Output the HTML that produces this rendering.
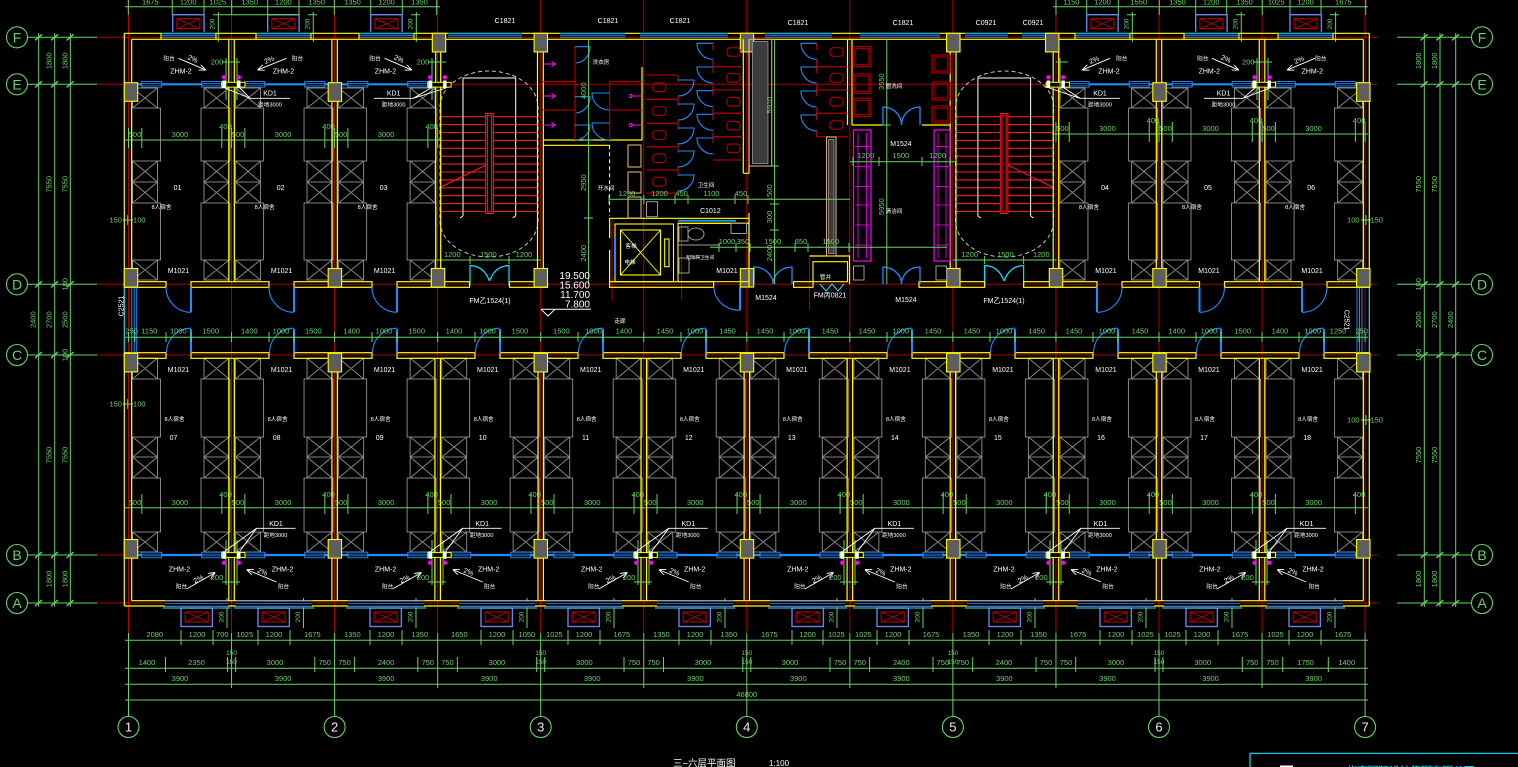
<!DOCTYPE html>
<html><head><meta charset="utf-8"><title>三~六层平面图</title>
<style>
html,body{margin:0;padding:0;background:#000}
body{width:1518px;height:767px;overflow:hidden}
svg{display:block}
text{font-family:"Liberation Sans Narrow","Liberation Sans","Noto Sans CJK SC",sans-serif}
.g{fill:#66d466;font-size:7.5px;text-anchor:middle}
.gs{fill:#66d466;font-size:6.5px;text-anchor:middle}
.w{fill:#fff;font-size:7px;text-anchor:middle}
.wc{fill:#fff;font-size:5.6px;text-anchor:middle;font-family:"Liberation Sans","Noto Sans CJK SC",sans-serif}
.bl{fill:#66d466;font-size:14px;text-anchor:middle;font-family:"Liberation Sans",sans-serif}
.bn{fill:#eee;font-size:13px;text-anchor:middle;font-family:"Liberation Sans",sans-serif}
</style></head><body>
<svg xmlns="http://www.w3.org/2000/svg" width="1518" height="767" viewBox="0 0 1518 767">
<defs>
<path id="fu" fill="none" stroke="#858585" stroke-width="1" d="M0 88h25v20h-25zM0 88l25 20M25 88l-25 20M-1 108h29v53h-29zM0 161h25v21h-25zM0 161l25 21M25 161l-25 21M0 182h25v21h-25zM0 182l25 21M25 182l-25 21M-1 203h29v57h-29zM0 260h25v20h-25zM0 260l25 20M25 260l-25 20"/>
<path id="fl" fill="none" stroke="#858585" stroke-width="1" d="M0 358h25v21h-25zM0 358l25 21M25 358l-25 21M-1 379h29v58h-29zM0 437h25v20h-25zM0 437l25 20M25 437l-25 20M0 457h25v21h-25zM0 457l25 21M25 457l-25 21M-1 478h29v54h-29zM0 532h25v20h-25zM0 532l25 20M25 532l-25 20"/>
<g id="ac"><rect x="0" y="0" width="31.4" height="18.5" fill="none" stroke="#6a84e6" stroke-width="1.4"/><rect x="4.2" y="4" width="23" height="10" fill="none" stroke="#c40000"/><path d="M4.2 4L27.2 14M27.2 4L4.2 14" stroke="#c40000" stroke-width="0.8"/></g>
<g id="win"><rect x="0" y="-2.8" width="20" height="5.6" fill="#000" stroke="#2a8cff" stroke-width="0.9"/><path d="M0 -0.9H20M0 0.9H20" stroke="#2a8cff" stroke-width="0.7"/></g>
<rect id="col" x="0" y="0" width="13.4" height="18.6" fill="#5e5e5e" stroke="#ffff00" stroke-width="1.1"/>
<g id="stair" fill="none">
<path d="M440.7 116.7H538M440.7 124.6H538M440.7 132.5H538M440.7 140.4H538M440.7 148.3H538M440.7 156.2H538M440.7 164.1H538M440.7 172H538M440.7 179.9H538M440.7 187.8H538M440.7 195.7H538M440.7 203.6H538M440.7 211.5H538" stroke="#ff1a1a" stroke-width="1.1"/>
<rect x="485.7" y="113.5" width="7.6" height="100" stroke="#ff1a1a" fill="#000"/>
<rect x="487.4" y="115.2" width="4.2" height="96.6" stroke="#ff1a1a"/>
<path d="M463 216V78H515.7V216M463 216l-3 2M515.7 216l-3 2" stroke="#fff"/>
<path d="M441 187L486 165" stroke="#ff1a1a"/>
<path d="M440 107A49 36 0 0 1 538 107V221A49 36 0 0 1 440 221Z" stroke="#c8c8c8" stroke-dasharray="4 3"/>
<path d="M470 286V265.5Q484 266 489.5 281M509 286V265.5Q495 266 489.5 281" stroke="#00e5ff" stroke-width="1.2"/>
<path d="M437 260H541M470 256V264M509 256V264" stroke="#66d466"/>
</g>
<marker id="ah" markerWidth="7" markerHeight="6" refX="6" refY="3" orient="auto" markerUnits="userSpaceOnUse"><path d="M0 0L7 3L0 6" fill="none" stroke="#fff" stroke-width="0.9"/></marker>
</defs>
<rect width="1518" height="767" fill="#000"/>

<!-- red axis lines -->
<path fill="none" stroke="#b00000" stroke-width="1" d="M128.5 0V633M231.55 0V633M334.6 0V633M437.65 0V633M540.7 0V633M643.75 0V633M746.8 0V633M849.85 0V633M952.9 0V633M1055.95 0V633M1159 0V633M1262.05 0V633M1365.1 0V633M97 37.3H1377M97 84.3H1377M97 284.3H1377M97 355H1377M97 555H1377M97 603H1377M612 218V300M681.6 218V300M809.6 255V310"/>

<!-- grid extension and outer dimension lines (green) -->
<path fill="none" stroke="#66d466" stroke-width="1" d="M28 37.3H97M28 84.3H97M28 284.3H97M28 355H97M28 555H97M28 603H97M1397 37.3H1471.5M1397 84.3H1471.5M1397 284.3H1471.5M1397 355H1471.5M1397 555H1471.5M1397 603H1471.5M38.7 33V607M54.7 33V607M70.3 33V607M1424.3 33V607M1440 33V607M1455.7 33V607"/>
<path fill="none" stroke="#66d466" stroke-width="1.4" d="M35 40.3l7-6M51 40.3l7-6M66.6 40.3l7-6M35 87.3l7-6M51 87.3l7-6M66.6 87.3l7-6M35 287.3l7-6M51 287.3l7-6M66.6 287.3l7-6M35 358l7-6M51 358l7-6M66.6 358l7-6M35 558l7-6M51 558l7-6M66.6 558l7-6M35 606l7-6M51 606l7-6M66.6 606l7-6M1420.6 40.3l7-6M1436.3 40.3l7-6M1452 40.3l7-6M1420.6 87.3l7-6M1436.3 87.3l7-6M1452 87.3l7-6M1420.6 287.3l7-6M1436.3 287.3l7-6M1452 287.3l7-6M1420.6 358l7-6M1436.3 358l7-6M1452 358l7-6M1420.6 558l7-6M1436.3 558l7-6M1452 558l7-6M1420.6 606l7-6M1436.3 606l7-6M1452 606l7-6"/>

<!-- left/right bubbles -->
<g fill="none" stroke="#66d466" stroke-width="1.1">
<circle cx="17" cy="37.3" r="10.5"/><circle cx="17" cy="84.3" r="10.5"/><circle cx="17" cy="284.3" r="10.5"/><circle cx="17" cy="355" r="10.5"/><circle cx="17" cy="555" r="10.5"/><circle cx="17" cy="603" r="10.5"/>
<circle cx="1482" cy="37.3" r="10.5"/><circle cx="1482" cy="84.3" r="10.5"/><circle cx="1482" cy="284.3" r="10.5"/><circle cx="1482" cy="355" r="10.5"/><circle cx="1482" cy="555" r="10.5"/><circle cx="1482" cy="603" r="10.5"/>
<circle cx="128.5" cy="727" r="10.5"/><circle cx="334.6" cy="727" r="10.5"/><circle cx="540.7" cy="727" r="10.5"/><circle cx="746.8" cy="727" r="10.5"/><circle cx="952.9" cy="727" r="10.5"/><circle cx="1159" cy="727" r="10.5"/><circle cx="1365.1" cy="727" r="10.5"/>
</g>
<text class="bl" x="17" y="42.5">F</text><text class="bl" x="17" y="89.5">E</text><text class="bl" x="17" y="289.5">D</text><text class="bl" x="17" y="360.2">C</text><text class="bl" x="17" y="560.2">B</text><text class="bl" x="17" y="608.2">A</text>
<text class="bl" x="1482" y="42.5">F</text><text class="bl" x="1482" y="89.5">E</text><text class="bl" x="1482" y="289.5">D</text><text class="bl" x="1482" y="360.2">C</text><text class="bl" x="1482" y="560.2">B</text><text class="bl" x="1482" y="608.2">A</text>
<text class="bn" x="128.5" y="731.7">1</text><text class="bn" x="334.6" y="731.7">2</text><text class="bn" x="540.7" y="731.7">3</text><text class="bn" x="746.8" y="731.7">4</text><text class="bn" x="952.9" y="731.7">5</text><text class="bn" x="1159" y="731.7">6</text><text class="bn" x="1365.1" y="731.7">7</text>

<!-- left/right vertical dimension texts -->
<g class="g">
<text transform="translate(51.5 60.8) rotate(-90)">1800</text><text transform="translate(51.5 184.3) rotate(-90)">7550</text><text transform="translate(51.5 319.7) rotate(-90)">2700</text><text transform="translate(51.5 455) rotate(-90)">7550</text><text transform="translate(51.5 579) rotate(-90)">1800</text>
<text transform="translate(67.5 60.8) rotate(-90)">1800</text><text transform="translate(67.5 184.3) rotate(-90)">7550</text><text transform="translate(67.5 284.3) rotate(-90)">100</text><text transform="translate(67.5 319.7) rotate(-90)">2500</text><text transform="translate(67.5 355) rotate(-90)">100</text><text transform="translate(67.5 455) rotate(-90)">7550</text><text transform="translate(67.5 579) rotate(-90)">1800</text>
<text transform="translate(35.5 319.7) rotate(-90)">2400</text>
<text transform="translate(1421 60.8) rotate(-90)">1800</text><text transform="translate(1421 184.3) rotate(-90)">7550</text><text transform="translate(1421 284.3) rotate(-90)">100</text><text transform="translate(1421 319.7) rotate(-90)">2500</text><text transform="translate(1421 355) rotate(-90)">100</text><text transform="translate(1421 455) rotate(-90)">7550</text><text transform="translate(1421 579) rotate(-90)">1800</text>
<text transform="translate(1437 60.8) rotate(-90)">1800</text><text transform="translate(1437 184.3) rotate(-90)">7550</text><text transform="translate(1437 319.7) rotate(-90)">2700</text><text transform="translate(1437 455) rotate(-90)">7550</text><text transform="translate(1437 579) rotate(-90)">1800</text>
<text transform="translate(1453 319.7) rotate(-90)">2400</text>
</g>

<!-- top dimension -->
<path fill="none" stroke="#66d466" d="M125 6.7H440M1053 6.7H1368M128.3 0V15M172.3 0V15M204 0V15M231.7 0V15M267.7 0V15M299 0V15M334.3 0V15M370.7 0V15M402.3 0V15M436.7 0V15M1056 0V15M1086.7 0V15M1118.3 0V15M1159.3 0V15M1195.7 0V15M1226.7 0V15M1262.3 0V15M1290 0V15M1321 0V15M1365.7 0V15"/>
<g class="g">
<text x="150.3" y="4.5">1675</text><text x="188.2" y="4.5">1200</text><text x="217.9" y="4.5">1025</text><text x="249.7" y="4.5">1350</text><text x="283.4" y="4.5">1200</text><text x="316.7" y="4.5">1350</text><text x="352.5" y="4.5">1350</text><text x="386.5" y="4.5">1200</text><text x="419.5" y="4.5">1350</text>
<text x="1071.4" y="4.5">1150</text><text x="1102.5" y="4.5">1200</text><text x="1138.8" y="4.5">1550</text><text x="1177.5" y="4.5">1350</text><text x="1211.2" y="4.5">1200</text><text x="1244.5" y="4.5">1350</text><text x="1276.2" y="4.5">1025</text><text x="1305.5" y="4.5">1200</text><text x="1343.4" y="4.5">1675</text>
</g>

<!-- AC units top -->
<use href="#ac" x="172.7" y="14.7"/><use href="#ac" x="267.7" y="14.7"/><use href="#ac" x="370.7" y="14.7"/><use href="#ac" x="1086.7" y="14.7"/><use href="#ac" x="1195.7" y="14.7"/><use href="#ac" x="1290" y="14.7"/>
<path fill="none" stroke="#66d466" d="M218.3 12V42M213 14.7H222M299.1 14.7H222M313.3 12V42M308 14.7H317M416.3 12V42M411 14.7H420M1132.3 12V42M1127 14.7H1136M1241.3 12V42M1236 14.7H1245M1335.6 12V42M1330 14.7H1339"/>
<g class="gs">
<text transform="translate(214.5 24) rotate(-90)">200</text><text transform="translate(309.5 24) rotate(-90)">200</text><text transform="translate(412.5 24) rotate(-90)">200</text><text transform="translate(1128.5 24) rotate(-90)">200</text><text transform="translate(1237.5 24) rotate(-90)">200</text><text transform="translate(1331.8 24) rotate(-90)">200</text>
</g>

<!-- AC units bottom -->
<use href="#ac" x="181" y="608"/><use href="#ac" x="258" y="608"/><use href="#ac" x="370" y="608"/><use href="#ac" x="481" y="608"/><use href="#ac" x="568" y="608"/><use href="#ac" x="679" y="608"/><use href="#ac" x="792" y="608"/><use href="#ac" x="877" y="608"/><use href="#ac" x="989" y="608"/><use href="#ac" x="1100" y="608"/><use href="#ac" x="1186" y="608"/><use href="#ac" x="1289" y="608"/>
<path fill="none" stroke="#66d466" d="M227 598V628M303.5 598V628M416 598V628M527 598V628M614 598V628M725 598V628M837 598V628M923 598V628M1035 598V628M1146 598V628M1232 598V628M1335 598V628"/>
<g class="gs">
<text transform="translate(223.5 617) rotate(-90)">200</text><text transform="translate(300 617) rotate(-90)">200</text><text transform="translate(412.5 617) rotate(-90)">200</text><text transform="translate(523.5 617) rotate(-90)">200</text><text transform="translate(610.5 617) rotate(-90)">200</text><text transform="translate(721.5 617) rotate(-90)">200</text><text transform="translate(833.5 617) rotate(-90)">200</text><text transform="translate(919.5 617) rotate(-90)">200</text><text transform="translate(1031.5 617) rotate(-90)">200</text><text transform="translate(1142.5 617) rotate(-90)">200</text><text transform="translate(1228.5 617) rotate(-90)">200</text><text transform="translate(1331.5 617) rotate(-90)">200</text>
</g>

<!-- furniture upper -->
<use href="#fu" x="132.5"/><use href="#fu" transform="translate(229 0) scale(-1 1)"/>
<use href="#fu" x="235.55"/><use href="#fu" transform="translate(332.05 0) scale(-1 1)"/>
<use href="#fu" x="338.6"/><use href="#fu" transform="translate(435.1 0) scale(-1 1)"/>
<use href="#fu" x="1059.95"/><use href="#fu" transform="translate(1156.45 0) scale(-1 1)"/>
<use href="#fu" x="1163"/><use href="#fu" transform="translate(1259.5 0) scale(-1 1)"/>
<use href="#fu" x="1266.05"/><use href="#fu" transform="translate(1362.55 0) scale(-1 1)"/>
<!-- furniture lower -->
<use href="#fl" x="132.5"/><use href="#fl" transform="translate(229 0) scale(-1 1)"/>
<use href="#fl" x="235.55"/><use href="#fl" transform="translate(332.05 0) scale(-1 1)"/>
<use href="#fl" x="338.6"/><use href="#fl" transform="translate(435.1 0) scale(-1 1)"/>
<use href="#fl" x="441.65"/><use href="#fl" transform="translate(538.15 0) scale(-1 1)"/>
<use href="#fl" x="544.7"/><use href="#fl" transform="translate(641.2 0) scale(-1 1)"/>
<use href="#fl" x="647.75"/><use href="#fl" transform="translate(744.25 0) scale(-1 1)"/>
<use href="#fl" x="750.8"/><use href="#fl" transform="translate(847.3 0) scale(-1 1)"/>
<use href="#fl" x="853.85"/><use href="#fl" transform="translate(950.35 0) scale(-1 1)"/>
<use href="#fl" x="956.9"/><use href="#fl" transform="translate(1053.4 0) scale(-1 1)"/>
<use href="#fl" x="1059.95"/><use href="#fl" transform="translate(1156.45 0) scale(-1 1)"/>
<use href="#fl" x="1163"/><use href="#fl" transform="translate(1259.5 0) scale(-1 1)"/>
<use href="#fl" x="1266.05"/><use href="#fl" transform="translate(1362.55 0) scale(-1 1)"/>

<!-- stairs -->
<use href="#stair"/>
<use href="#stair" transform="translate(1493.6 0) scale(-1 1)"/>

<!-- room dimension lines -->
<path fill="none" stroke="#66d466" d="M125 140H441M1052 134H1368M125 507.7H1368M128.5 128V148M141.8 128V148M221.8 128V148M231.55 128V148M244.85 128V148M324.85 128V148M334.6 128V148M347.9 128V148M427.9 128V148M437.65 128V148M1055.95 122V142M1069.25 122V142M1149.25 122V142M1159 122V142M1172.3 122V142M1252.3 122V142M1262.05 122V142M1275.35 122V142M1355.35 122V142M1365.1 122V142M141.8 494V514M244.85 494V514M347.9 494V514M450.95 494V514M554 494V514M657.05 494V514M760.1 494V514M863.15 494V514M966.2 494V514M1069.25 494V514M1172.3 494V514M1275.35 494V514M221.8 494V514M324.85 494V514M427.9 494V514M530.95 494V514M634 494V514M737.05 494V514M840.1 494V514M943.15 494V514M1046.2 494V514M1149.25 494V514M1252.3 494V514M1355.35 494V514M123 220H133M127.7 215V225M123 404H133M127.7 399V409M1361 220H1371M1366 215V225M1361 420H1371M1366 415V425"/>
<g class="g">
<text x="135" y="137">500</text><text x="180" y="137">3000</text><text x="225.5" y="129">400</text>
<text x="238.05" y="137">500</text><text x="283.05" y="137">3000</text><text x="328.55" y="129">400</text>
<text x="341.1" y="137">500</text><text x="386.1" y="137">3000</text><text x="431.6" y="129">400</text>
<text x="1062.45" y="131">500</text><text x="1107.45" y="131">3000</text><text x="1152.95" y="123">400</text>
<text x="1165.5" y="131">500</text><text x="1210.5" y="131">3000</text><text x="1256" y="123">400</text>
<text x="1268.55" y="131">500</text><text x="1313.55" y="131">3000</text><text x="1359.05" y="123">400</text>
<text x="135" y="505">500</text><text x="180" y="505">3000</text><text x="225.5" y="497">400</text>
<text x="238.05" y="505">500</text><text x="283.05" y="505">3000</text><text x="328.55" y="497">400</text>
<text x="341.1" y="505">500</text><text x="386.1" y="505">3000</text><text x="431.6" y="497">400</text>
<text x="444.15" y="505">500</text><text x="489.15" y="505">3000</text><text x="534.65" y="497">400</text>
<text x="547.2" y="505">500</text><text x="592.2" y="505">3000</text><text x="637.7" y="497">400</text>
<text x="650.25" y="505">500</text><text x="695.25" y="505">3000</text><text x="740.75" y="497">400</text>
<text x="753.3" y="505">500</text><text x="798.3" y="505">3000</text><text x="843.8" y="497">400</text>
<text x="856.35" y="505">500</text><text x="901.35" y="505">3000</text><text x="946.85" y="497">400</text>
<text x="959.4" y="505">500</text><text x="1004.4" y="505">3000</text><text x="1049.9" y="497">400</text>
<text x="1062.45" y="505">500</text><text x="1107.45" y="505">3000</text><text x="1152.95" y="497">400</text>
<text x="1165.5" y="505">500</text><text x="1210.5" y="505">3000</text><text x="1256" y="497">400</text>
<text x="1268.55" y="505">500</text><text x="1313.55" y="505">3000</text><text x="1359.05" y="497">400</text>
<text x="115.7" y="222.5">150</text><text x="139.3" y="222.5">100</text><text x="115.7" y="406.5">150</text><text x="139.3" y="406.5">100</text>
<text x="1353.3" y="222.5">100</text><text x="1376.7" y="222.5">150</text><text x="1353.3" y="422.5">100</text><text x="1376.7" y="422.5">150</text>
</g>

<!-- walls: outer yellow -->
<path fill="none" stroke="#ffff00" stroke-width="1.2" d="M124.3 33.3H1369.3M131.7 39.3H1363.3M124.3 606H1369.3M131.7 600.7H1363.3M124.3 33.3V287.3M124.3 352.7V606M131.7 39.3V281.7M131.7 358.3V600.7M1369.3 33.3V287.3M1369.3 352.7V606M1363.3 39.3V281.7M1363.3 358.3V600.7"/>
<!-- partitions upper -->
<path fill="none" stroke="#ffff00" stroke-width="1.2" d="M228.8 39.3V281.7M234.3 39.3V281.7M331.9 39.3V281.7M337.3 39.3V281.7M435.7 39.3V281.7M440.7 39.3V281.7M537.5 39.3V281.7M543.3 39.3V281.7M950.2 39.3V281.7M956 39.3V281.7M1053.2 39.3V281.7M1058.7 39.3V281.7M1156.3 39.3V281.7M1161.7 39.3V281.7M1259.3 39.3V281.7M1264.8 39.3V281.7"/>
<!-- partitions lower -->
<path fill="none" stroke="#ffff00" stroke-width="1.2" d="M228.8 358.3V600.7M234.3 358.3V600.7M331.9 358.3V600.7M337.3 358.3V600.7M434.9 358.3V600.7M440.4 358.3V600.7M538 358.3V600.7M543.4 358.3V600.7M641 358.3V600.7M646.5 358.3V600.7M744.1 358.3V600.7M749.5 358.3V600.7M847.1 358.3V600.7M852.6 358.3V600.7M950.2 358.3V600.7M955.6 358.3V600.7M1053.2 358.3V600.7M1058.7 358.3V600.7M1156.3 358.3V600.7M1161.7 358.3V600.7M1259.3 358.3V600.7M1264.8 358.3V600.7"/>

<!-- top windows -->
<g fill="#000">
<rect x="161" y="31.8" width="55" height="6.4"/><rect x="256" y="31.8" width="55" height="6.4"/><rect x="359" y="31.8" width="55" height="6.4"/><rect x="1075" y="31.8" width="55" height="6.4"/><rect x="1184" y="31.8" width="55" height="6.4"/><rect x="1278" y="31.8" width="55" height="6.4"/>
<rect x="448" y="31.8" width="74" height="6.4"/><rect x="560" y="31.8" width="65" height="6.4"/><rect x="640" y="31.8" width="88" height="6.4"/><rect x="765" y="31.8" width="67" height="6.4"/><rect x="860" y="31.8" width="80" height="6.4"/><rect x="965" y="31.8" width="43" height="6.4"/><rect x="1022" y="31.8" width="23" height="6.4"/>
</g>
<path fill="none" stroke="#6a84e6" stroke-width="1" d="M161 37.2H216M256 37.2H311M359 37.2H414M1075 37.2H1130M1184 37.2H1239M1278 37.2H1333M448 37.2H522M560 37.2H625M640 37.2H728M765 37.2H832M860 37.2H940M965 37.2H1008M1022 37.2H1045"/>
<path fill="none" stroke="#2a8cff" stroke-width="1" d="M161 35.3H216M256 35.3H311M359 35.3H414M1075 35.3H1130M1184 35.3H1239M1278 35.3H1333M448 35.3H522M560 35.3H625M640 35.3H728M765 35.3H832M860 35.3H940M965 35.3H1008M1022 35.3H1045"/>
<path fill="none" stroke="#33e0ff" stroke-width="1" d="M161 33.3H216M256 33.3H311M359 33.3H414M1075 33.3H1130M1184 33.3H1239M1278 33.3H1333M448 33.3H522M560 33.3H625M640 33.3H728M765 33.3H832M860 33.3H940M965 33.3H1008M1022 33.3H1045"/>
<path fill="none" stroke="#ffff00" stroke-width="1.1" d="M161 33.3V39.3M216 33.3V39.3M256 33.3V39.3M311 33.3V39.3M359 33.3V39.3M414 33.3V39.3M1075 33.3V39.3M1130 33.3V39.3M1184 33.3V39.3M1239 33.3V39.3M1278 33.3V39.3M1333 33.3V39.3"/>

<!-- bottom windows -->
<g fill="#000">
<rect x="165" y="601.6" width="63" height="5.6"/><rect x="236" y="601.6" width="76" height="5.6"/><rect x="348" y="601.6" width="76" height="5.6"/><rect x="459" y="601.6" width="76" height="5.6"/><rect x="546" y="601.6" width="76" height="5.6"/><rect x="657" y="601.6" width="76" height="5.6"/><rect x="770" y="601.6" width="75" height="5.6"/><rect x="855" y="601.6" width="76" height="5.6"/><rect x="967" y="601.6" width="76" height="5.6"/><rect x="1078" y="601.6" width="76" height="5.6"/><rect x="1164" y="601.6" width="76" height="5.6"/><rect x="1267" y="601.6" width="76" height="5.6"/>
</g>
<path fill="none" stroke="#6a84e6" stroke-width="1" d="M165 601H228M236 601H312M348 601H424M459 601H535M546 601H622M657 601H733M770 601H845M855 601H931M967 601H1043M1078 601H1154M1164 601H1240M1267 601H1343M165 606.2H228M236 606.2H312M348 606.2H424M459 606.2H535M546 606.2H622M657 606.2H733M770 606.2H845M855 606.2H931M967 606.2H1043M1078 606.2H1154M1164 606.2H1240M1267 606.2H1343"/>
<path fill="none" stroke="#2a8cff" stroke-width="0.8" d="M165 603.6H228M236 603.6H312M348 603.6H424M459 603.6H535M546 603.6H622M657 603.6H733M770 603.6H845M855 603.6H931M967 603.6H1043M1078 603.6H1154M1164 603.6H1240M1267 603.6H1343"/>
<path fill="none" stroke="#33e0ff" stroke-width="1" d="M163 608H230M234 608H314M346 608H426M457 608H537M544 608H624M655 608H735M768 608H847M853 608H933M965 608H1045M1076 608H1156M1162 608H1242M1265 608H1345"/>

<!-- E line / B line glazing -->
<path fill="none" stroke="#1b8dff" stroke-width="2.2" d="M138 84.3H221M245 84.3H328M342 84.3H430M1063 84.3H1152M1166 84.3H1255M1270 84.3H1357M138 555H221M245 555H328M342 555H430M445 555H534M548 555H636M651 555H740M754 555H842M857 555H946M960 555H1048M1063 555H1152M1166 555H1255M1270 555H1357"/>
<use href="#win" x="141.7" y="84.3"/><use href="#win" x="201.7" y="84.3"/><use href="#win" x="244.75" y="84.3"/><use href="#win" x="304.75" y="84.3"/><use href="#win" x="347.8" y="84.3"/><use href="#win" x="407.8" y="84.3"/><use href="#win" x="1069.15" y="84.3"/><use href="#win" x="1129.15" y="84.3"/><use href="#win" x="1172.2" y="84.3"/><use href="#win" x="1232.2" y="84.3"/><use href="#win" x="1275.25" y="84.3"/><use href="#win" x="1335.25" y="84.3"/>
<use href="#win" x="141.7" y="555"/><use href="#win" x="201.7" y="555"/><use href="#win" x="244.75" y="555"/><use href="#win" x="304.75" y="555"/><use href="#win" x="347.8" y="555"/><use href="#win" x="407.8" y="555"/><use href="#win" x="450.85" y="555"/><use href="#win" x="510.85" y="555"/><use href="#win" x="553.9" y="555"/><use href="#win" x="613.9" y="555"/><use href="#win" x="656.95" y="555"/><use href="#win" x="716.95" y="555"/><use href="#win" x="760" y="555"/><use href="#win" x="820" y="555"/><use href="#win" x="863.05" y="555"/><use href="#win" x="923.05" y="555"/><use href="#win" x="966.1" y="555"/><use href="#win" x="1026.1" y="555"/><use href="#win" x="1069.15" y="555"/><use href="#win" x="1129.15" y="555"/><use href="#win" x="1172.2" y="555"/><use href="#win" x="1232.2" y="555"/><use href="#win" x="1275.25" y="555"/><use href="#win" x="1335.25" y="555"/>
<!-- small yellow pipe rects at partitions -->
<g fill="#000" stroke="#ffff00" stroke-width="1">
<rect x="221.7" y="82.3" width="23.3" height="4.8"/><rect x="427.8" y="82.3" width="23.3" height="4.8"/><rect x="1046.1" y="82.3" width="23.3" height="4.8"/><rect x="1252.2" y="82.3" width="23.3" height="4.8"/>
<rect x="221.7" y="552.6" width="23.3" height="4.8"/><rect x="427.8" y="552.6" width="23.3" height="4.8"/><rect x="633.9" y="552.6" width="23.3" height="4.8"/><rect x="840" y="552.6" width="23.3" height="4.8"/><rect x="1046.1" y="552.6" width="23.3" height="4.8"/><rect x="1252.2" y="552.6" width="23.3" height="4.8"/>
</g>

<!-- corridor walls D (upper) -->
<g fill="none" stroke="#ffff00" stroke-width="1.2">
<rect x="124.3" y="281.7" width="41.7" height="5.6"/><rect x="191" y="281.7" width="78" height="5.6"/><rect x="294" y="281.7" width="78" height="5.6"/><rect x="397" y="281.7" width="72.5" height="5.6"/><rect x="509.5" y="281.7" width="38" height="5.6"/><rect x="609.6" y="281.7" width="104" height="5.6"/><rect x="793.6" y="281.7" width="19.4" height="5.6"/><rect x="919" y="281.7" width="65.6" height="5.6"/><rect x="1023.6" y="281.7" width="73.4" height="5.6"/><rect x="1122" y="281.7" width="77.5" height="5.6"/><rect x="1224.5" y="281.7" width="77.5" height="5.6"/><rect x="1327" y="281.7" width="42.3" height="5.6"/>
<!-- corridor walls C (lower) -->
<rect x="124.3" y="352.7" width="41.7" height="5.6"/><rect x="191" y="352.7" width="78" height="5.6"/><rect x="294" y="352.7" width="78" height="5.6"/><rect x="397" y="352.7" width="78" height="5.6"/><rect x="500" y="352.7" width="78" height="5.6"/><rect x="603" y="352.7" width="78" height="5.6"/><rect x="706" y="352.7" width="78" height="5.6"/><rect x="809" y="352.7" width="78" height="5.6"/><rect x="912" y="352.7" width="78" height="5.6"/><rect x="1015" y="352.7" width="78" height="5.6"/><rect x="1118" y="352.7" width="78" height="5.6"/><rect x="1221" y="352.7" width="78" height="5.6"/><rect x="1324" y="352.7" width="45.3" height="5.6"/>
</g>
<!-- corridor end windows -->
<path fill="none" stroke="#33e0ff" stroke-width="1.1" d="M124.3 287.3V352.7M1369.3 287.3V352.7"/>
<path fill="none" stroke="#1b8dff" stroke-width="1" d="M131.7 287.3V352.7M134.2 287.3V352.7M136.7 287.3V352.7M1357 287.3V352.7M1359.5 287.3V352.7M1362 287.3V352.7"/>

<!-- doors -->
<path fill="none" stroke="#1b8dff" stroke-width="1.1" d="M166 287.3A25 25 0 0 0 191 312.3M269 287.3A25 25 0 0 0 294 312.3M372 287.3A25 25 0 0 0 397 312.3M1097 312.3A25 25 0 0 0 1122 287.3M1199.5 312.3A25 25 0 0 0 1224.5 287.3M1302 312.3A25 25 0 0 0 1327 287.3M714 287.3A26 23 0 0 0 740 310.3M166.5 352.7A24.5 24.5 0 0 1 191 328.2M269.5 352.7A24.5 24.5 0 0 1 294 328.2M372.5 352.7A24.5 24.5 0 0 1 397 328.2M475.5 352.7A24.5 24.5 0 0 1 500 328.2M578.5 352.7A24.5 24.5 0 0 1 603 328.2M681.5 352.7A24.5 24.5 0 0 1 706 328.2M784.5 352.7A24.5 24.5 0 0 1 809 328.2M887.5 352.7A24.5 24.5 0 0 1 912 328.2M990.5 352.7A24.5 24.5 0 0 1 1015 328.2M1093.5 352.7A24.5 24.5 0 0 1 1118 328.2M1196.5 352.7A24.5 24.5 0 0 1 1221 328.2M1299.5 352.7A24.5 24.5 0 0 1 1324 328.2"/>
<path fill="none" stroke="#1b8dff" stroke-width="2" d="M191 287.3V312M294 287.3V312M397 287.3V312M1097 287.3V312M1199.5 287.3V312M1302 287.3V312M740 287.3V310M191 352.7V329M294 352.7V329M397 352.7V329M500 352.7V329M603 352.7V329M706 352.7V329M809 352.7V329M912 352.7V329M1015 352.7V329M1118 352.7V329M1221 352.7V329M1324 352.7V329"/>
<path fill="none" stroke="#1b8dff" stroke-width="1.3" d="M754 284V267A19 17 0 0 1 773 284M792 284V267A19 17 0 0 0 773 284M883 284V267A19 17 0 0 1 901.5 284M920 284V267A18.5 17 0 0 0 901.5 284M883 125V107A18.5 18 0 0 1 901.5 125M920 125V107A18.5 18 0 0 0 901.5 125"/>

<!-- columns -->
<use href="#col" x="124.3" y="82.7"/><use href="#col" x="328.2" y="82.7"/><use href="#col" x="1152.8" y="82.7"/><use href="#col" x="1356.6" y="82.7"/>
<use href="#col" x="124.3" y="268.5"/><use href="#col" x="328.2" y="268.5"/><use href="#col" x="431.3" y="268.5"/><use href="#col" x="534.1" y="268.5"/><use href="#col" x="740.3" y="268.5"/><use href="#col" x="946.6" y="268.5"/><use href="#col" x="1049.3" y="268.5"/><use href="#col" x="1152.8" y="268.5"/><use href="#col" x="1356.6" y="268.5"/>
<use href="#col" x="432.3" y="33.3"/><use href="#col" x="534.1" y="33.3"/><use href="#col" x="740.3" y="33.3"/><use href="#col" x="946.6" y="33.3"/><use href="#col" x="1045.5" y="33.3"/>
<use href="#col" x="124.3" y="353.3"/><use href="#col" x="328.2" y="353.3"/><use href="#col" x="534.1" y="353.3"/><use href="#col" x="740.3" y="353.3"/><use href="#col" x="946.6" y="353.3"/><use href="#col" x="1152.8" y="353.3"/><use href="#col" x="1356.6" y="353.3"/>
<use href="#col" x="124.3" y="539.5"/><use href="#col" x="328.2" y="539.5"/><use href="#col" x="534.1" y="539.5"/><use href="#col" x="740.3" y="539.5"/><use href="#col" x="946.6" y="539.5"/><use href="#col" x="1152.8" y="539.5"/><use href="#col" x="1356.6" y="539.5"/>

<!-- ===== toilet core ===== -->
<path fill="none" stroke="#ffff00" stroke-width="1.2" d="M543.3 140H642M642 67V140M543.3 145.3H609.6M609.6 218.3H749M749 213V287M609.6 218.3V238M609.6 250V282M743.3 39.3V173.3M749 39.3V173.3M743.3 173.3H749M847.5 39.3V125M852 39.3V125M852 125H882M922 125H950.2M809.6 256H849.5V284M678 223.3H749"/>
<g fill="none" stroke="#ffff00" stroke-width="1.1">
<rect x="615" y="224" width="58.5" height="57.7"/><rect x="620.5" y="230" width="40" height="45"/><rect x="664.7" y="239" width="4.3" height="27.7"/><rect x="678" y="223.3" width="71" height="58.4"/><rect x="813" y="261.7" width="34.5" height="20"/>
</g>
<path fill="none" stroke="#ffff00" stroke-width="0.9" d="M620.5 230L660.5 275M660.5 230L620.5 275"/>
<path fill="none" stroke="#1b8dff" stroke-width="2" d="M615 237V275M678 220.7H736"/>
<!-- dark red partitions -->
<path fill="none" stroke="#a80000" stroke-width="1.3" d="M575 46.7V140M543.3 81.7H575M543.3 110H575M609.6 81.7V140M609.6 81.7H642M609.6 110H642M646.5 75H678M646.5 99.3H678M646.5 123.3H678M646.5 146.7H678M646.5 170H678M646.5 193H678M678 75V82M678 96V106M678 120V130M678 143V153M678 166V176M713 66.7H743M713 90H743M713 113.3H743M713 136.7H743M713 160H743M713 43V50M713 60V73M713 84V96M713 108V120M713 132V143M816.7 66.7H847.5M816.7 90H847.5M816.7 113.3H847.5M816.7 136.7H847.5M816.7 43V50M816.7 60V73M816.7 84V96M816.7 108V120M816.7 130V137"/>
<g fill="none" stroke="#a80000" stroke-width="1.2">
<rect x="652.8" y="83" width="13" height="8.6" rx="3"/><rect x="652.8" y="106.7" width="13" height="8.6" rx="3"/><rect x="652.8" y="130.7" width="13" height="8.6" rx="3"/><rect x="652.8" y="154" width="13" height="8.6" rx="3"/><rect x="652.8" y="177.4" width="13" height="8.6" rx="3"/>
<rect x="727" y="47.7" width="13" height="8.6" rx="3"/><rect x="727" y="73.7" width="13" height="8.6" rx="3"/><rect x="727" y="97.4" width="13" height="8.6" rx="3"/><rect x="727" y="121.4" width="13" height="8.6" rx="3"/><rect x="727" y="144" width="13" height="8.6" rx="3"/>
<rect x="830" y="47.7" width="13" height="8.6" rx="3"/><rect x="830" y="73.7" width="13" height="8.6" rx="3"/><rect x="830" y="97.4" width="13" height="8.6" rx="3"/><rect x="830" y="120.7" width="13" height="8.6" rx="3"/>
<rect x="853" y="46.7" width="18" height="20"/><rect x="855" y="48.7" width="14" height="16"/><rect x="853" y="74" width="18" height="19.3"/><rect x="855" y="76" width="14" height="15.3"/><rect x="853" y="98.3" width="18" height="18.4"/><rect x="855" y="100.3" width="14" height="14.4"/>
<rect x="932" y="55" width="18" height="18"/><rect x="934" y="57" width="14" height="14"/><rect x="932" y="82" width="18" height="18"/><rect x="934" y="84" width="14" height="14"/><rect x="932" y="106" width="18" height="17"/><rect x="934" y="108" width="14" height="13"/>
</g>
<!-- blue stall doors -->
<path fill="none" stroke="#1b8dff" stroke-width="1.1" d="M575 46.7H590A15 16 0 0 1 576 63M575 96.7H590A15 16 0 0 1 576 113M575 125H590A15 15 0 0 1 576 140M609.6 93H592A17 17 0 0 0 609 110M609.6 123H592A17 17 0 0 0 609 140M678 80H694A16 16 0 0 1 678 96M678 104H694A16 16 0 0 1 678 120M678 128H694A16 16 0 0 1 678 144M678 151H694A16 16 0 0 1 678 167M678 175H694A16 16 0 0 1 678 191M713 43.3H697A16 16 0 0 0 713 59.3M713 67H697A16 16 0 0 0 713 83M713 90.7H697A16 16 0 0 0 713 106.7M713 114.3H697A16 16 0 0 0 713 130.3M713 138H697A16 16 0 0 0 713 154M816.7 43.3H801A15.7 16 0 0 0 816.7 59.3M816.7 67H801A15.7 16 0 0 0 816.7 83M816.7 91H801A15.7 16 0 0 0 816.7 107M816.7 115H801A15.7 16 0 0 0 816.7 131"/>
<!-- magenta -->
<path fill="none" stroke="#ff00ff" stroke-width="1.1" d="M543.3 64H555M543.3 96H555M543.3 125H555M642 96H630.7M642 125H630.7M551.5 61.5L555 64L551.5 66.5M551.5 93.5L555 96L551.5 98.5M551.5 122.5L555 125L551.5 127.5"/>
<circle cx="630.7" cy="96" r="1.6" fill="none" stroke="#ff00ff"/><circle cx="630.7" cy="125" r="1.6" fill="none" stroke="#ff00ff"/>
<g fill="none" stroke="#ff00ff" stroke-width="1.2">
<rect x="853.5" y="130" width="17.5" height="131"/><rect x="934" y="130" width="16" height="131"/>
<path d="M858 133V258M866.5 133V258M938 133V258M946 133V258M855 146.7H870M855 166.7H870M855 186.7H870M855 205H870M855 225H870M855 245H870M935 146.7H949M935 166.7H949M935 186.7H949M935 205H949M935 225H949M935 245H949" stroke-width="0.8"/>
</g>
<!-- tan / gray fixtures -->
<g fill="none" stroke="#e0aa70" stroke-width="1.1">
<rect x="749" y="39.3" width="22.7" height="126.7"/><rect x="826.5" y="137" width="9.5" height="119"/><rect x="628" y="145" width="13" height="22"/><rect x="628" y="172" width="13" height="21"/><rect x="628" y="197" width="13" height="21"/>
</g>
<rect x="752.5" y="41.5" width="15.5" height="122" fill="#3c3c3c" stroke="#9a9a9a" stroke-width="0.8"/>
<rect x="828.5" y="139.5" width="5.5" height="114" fill="#3c3c3c" stroke="#9a9a9a" stroke-width="0.8"/>
<g fill="none" stroke="#9a9a9a" stroke-width="1">
<rect x="679" y="227" width="9" height="14"/><ellipse cx="696" cy="234" rx="8" ry="6"/><rect x="731" y="223.5" width="15.5" height="10"/><rect x="679" y="258" width="10" height="15"/><path d="M678 245H720"/><rect x="646.5" y="201.7" width="11" height="15"/><rect x="853.5" y="266" width="10.5" height="14"/><rect x="936" y="266" width="10.5" height="14"/>
</g>
<path fill="none" stroke="#fff" stroke-width="1" stroke-dasharray="4 3" d="M609.6 145.3V216"/>
<path fill="none" stroke="#33e0ff" stroke-width="1" d="M820 284L826 291L832 284L838 291L844 284"/>
<!-- core green dims -->
<path fill="none" stroke="#66d466" d="M588.6 39.3V284M774.6 39.3V284M886.8 39.3V284M850 161.7H955M609 199.3H850M710 247.3H947M584 140H593M584 218H593M770 166H779M770 204H779M770 230H779M882 125H891M609 195V204M643.8 195V204M675 195V204M688 195V204M735 195V204M748 195V204M719 243V252M736 243V252M750 243V252M795 243V252M808 243V252M849 243V252M853 157V166M879 157V166M922 157V166M950 157V166"/>
<g class="g">
<text transform="translate(585.8 90.7) rotate(-90)">4000</text><text transform="translate(585.8 182.7) rotate(-90)">2950</text><text transform="translate(585.8 253.3) rotate(-90)">2400</text>
<text transform="translate(771.8 192.7) rotate(-90)">1500</text><text transform="translate(771.8 217) rotate(-90)">300</text><text transform="translate(771.8 253) rotate(-90)">2400</text><text transform="translate(771.8 105) rotate(-90)">5910</text>
<text transform="translate(884 81.7) rotate(-90)">3550</text><text transform="translate(884 206.7) rotate(-90)">5950</text>
<text x="627" y="196">1200</text><text x="659.5" y="196">1200</text><text x="681.6" y="196">450</text><text x="711.4" y="196">1100</text><text x="741" y="196">450</text>
<text x="727" y="244">1000</text><text x="743" y="244">350</text><text x="772.8" y="244">1500</text><text x="801" y="244">650</text><text x="830.7" y="244">1500</text>
<text x="865.8" y="158">1200</text><text x="900.9" y="158">1500</text><text x="937.7" y="158">1200</text>
<text x="452.3" y="257">1200</text><text x="488.3" y="257">1500</text><text x="524" y="257">1200</text>
<text x="969.6" y="257">1200</text><text x="1005.3" y="257">1500</text><text x="1041.3" y="257">1200</text>
</g>
<g class="wc">
<text x="601" y="64">洗衣房</text><text x="606" y="190">开水间</text><text x="706" y="187">卫生间</text><text x="700" y="259" style="font-size:4.8px">无障碍卫生间</text><text x="894" y="88">盥洗间</text><text x="894" y="213">清洁间</text><text x="825.5" y="279">管井</text><text x="631" y="248">客梯</text><text x="630" y="264">电梯</text><text x="620" y="323">走廊</text>
</g>
<g class="w">
<text x="710.4" y="213">C1012</text><text x="727" y="273">M1021</text><text x="901" y="146">M1524</text>
<text x="505" y="23">C1821</text><text x="608" y="23">C1821</text><text x="680" y="23">C1821</text><text x="798" y="25">C1821</text><text x="903" y="25">C1821</text><text x="986" y="25">C0921</text><text x="1033" y="25">C0921</text>
<text x="490" y="303">FM乙1524(1)</text><text x="1004" y="303">FM乙1524(1)</text><text x="766" y="300">M1524</text><text x="830" y="297.5">FM丙0821</text><text x="906" y="302">M1524</text>
<text transform="translate(123.5 306) rotate(-90)">C2521</text><text transform="translate(1344.5 320) rotate(90)">C2521</text>
</g>
<!-- level marks -->
<g style="fill:#fff;font-size:10px;text-anchor:end">
<text x="590" y="279">19.500</text><text x="590" y="288.5">15.600</text><text x="590" y="298">11.700</text><text x="590" y="307.5">7.800</text>
</g>
<path fill="none" stroke="#fff" d="M541 309.3H591M541 309.3L548 316L555 309.3"/>

<!-- corridor dimension -->
<path fill="none" stroke="#66d466" d="M125 337.3H1368M128.5 332V342M134.8 332V342M166 332V342M191 332V342M231.55 332V342M269 332V342M294 332V342M334.6 332V342M372 332V342M397 332V342M437.65 332V342M475 332V342M500 332V342M540.7 332V342M578 332V342M603 332V342M643.75 332V342M681 332V342M706 332V342M746.8 332V342M784 332V342M809 332V342M849.85 332V342M887 332V342M912 332V342M952.9 332V342M990 332V342M1015 332V342M1055.95 332V342M1093 332V342M1118 332V342M1159 332V342M1196 332V342M1221 332V342M1262.05 332V342M1299 332V342M1324 332V342M1359 332V342M1365.1 332V342"/>
<g class="g">
<text x="131.7" y="333.5">250</text><text x="149.3" y="333.5">1150</text><text x="178.3" y="333.5">1000</text><text x="210.7" y="333.5">1500</text><text x="249.3" y="333.5">1400</text><text x="281" y="333.5">1000</text><text x="313.3" y="333.5">1500</text><text x="351.7" y="333.5">1400</text><text x="384" y="333.5">1000</text><text x="416.7" y="333.5">1500</text><text x="454" y="333.5">1400</text><text x="487.5" y="333.5">1000</text><text x="520" y="333.5">1500</text><text x="561.4" y="333.5">1500</text><text x="593.6" y="333.5">1000</text><text x="624" y="333.5">1400</text><text x="665" y="333.5">1450</text><text x="695" y="333.5">1000</text><text x="727.5" y="333.5">1450</text><text x="765" y="333.5">1450</text><text x="797" y="333.5">1000</text><text x="830" y="333.5">1450</text><text x="867" y="333.5">1450</text><text x="900.7" y="333.5">1000</text><text x="933" y="333.5">1450</text><text x="972" y="333.5">1450</text><text x="1004" y="333.5">1000</text><text x="1036.7" y="333.5">1450</text><text x="1074" y="333.5">1450</text><text x="1107" y="333.5">1000</text><text x="1140" y="333.5">1450</text><text x="1176.7" y="333.5">1400</text><text x="1209" y="333.5">1000</text><text x="1242.7" y="333.5">1500</text><text x="1280" y="333.5">1400</text><text x="1312.7" y="333.5">1000</text><text x="1338" y="333.5">1250</text><text x="1361.7" y="333.5">250</text>
</g>

<!-- room labels upper -->
<g class="w">
<text x="177.5" y="190">01</text><text x="280.6" y="190">02</text><text x="383.6" y="190">03</text><text x="1105" y="190">04</text><text x="1208" y="190">05</text><text x="1311.1" y="190">06</text>
<text x="178.5" y="273">M1021</text><text x="281.6" y="273">M1021</text><text x="384.6" y="273">M1021</text><text x="1106" y="273">M1021</text><text x="1209" y="273">M1021</text><text x="1312.1" y="273">M1021</text>
<text x="178.5" y="372">M1021</text><text x="281.6" y="372">M1021</text><text x="384.6" y="372">M1021</text><text x="487.7" y="372">M1021</text><text x="590.7" y="372">M1021</text><text x="693.8" y="372">M1021</text><text x="796.8" y="372">M1021</text><text x="899.9" y="372">M1021</text><text x="1002.9" y="372">M1021</text><text x="1106" y="372">M1021</text><text x="1209" y="372">M1021</text><text x="1312.1" y="372">M1021</text>
<text x="173.5" y="440">07</text><text x="276.6" y="440">08</text><text x="379.6" y="440">09</text><text x="482.7" y="440">10</text><text x="585.7" y="440">11</text><text x="688.8" y="440">12</text><text x="791.8" y="440">13</text><text x="894.9" y="440">14</text><text x="997.9" y="440">15</text><text x="1101" y="440">16</text><text x="1204" y="440">17</text><text x="1307.1" y="440">18</text>
</g>
<g class="wc">
<text x="161.5" y="209">8人宿舍</text><text x="264.6" y="209">8人宿舍</text><text x="367.6" y="209">8人宿舍</text><text x="1089" y="209">8人宿舍</text><text x="1192" y="209">8人宿舍</text><text x="1295.1" y="209">8人宿舍</text>
<text x="174.5" y="421">8人宿舍</text><text x="277.6" y="421">8人宿舍</text><text x="380.6" y="421">8人宿舍</text><text x="483.7" y="421">8人宿舍</text><text x="586.7" y="421">8人宿舍</text><text x="689.8" y="421">8人宿舍</text><text x="792.8" y="421">8人宿舍</text><text x="895.9" y="421">8人宿舍</text><text x="998.9" y="421">8人宿舍</text><text x="1102" y="421">8人宿舍</text><text x="1205" y="421">8人宿舍</text><text x="1308.1" y="421">8人宿舍</text>
<!-- balcony labels -->
<text x="169" y="60.5">阳台</text><text x="297.5" y="60.5">阳台</text><text x="375" y="60.5">阳台</text><text x="1121.7" y="60.5">阳台</text><text x="1202.7" y="60.5">阳台</text><text x="1320.7" y="60.5">阳台</text>
<text x="181.5" y="588.5">阳台</text><text x="283.55" y="588.5">阳台</text><text x="387.6" y="588.5">阳台</text><text x="489.65" y="588.5">阳台</text><text x="593.7" y="588.5">阳台</text><text x="695.75" y="588.5">阳台</text><text x="799.8" y="588.5">阳台</text><text x="901.85" y="588.5">阳台</text><text x="1005.9" y="588.5">阳台</text><text x="1107.95" y="588.5">阳台</text><text x="1212" y="588.5">阳台</text><text x="1314.05" y="588.5">阳台</text>
</g>
<g class="w">
<text x="181" y="73.5">ZHM-2</text><text x="283.5" y="73.5">ZHM-2</text><text x="385.5" y="73.5">ZHM-2</text><text x="1109" y="73.5">ZHM-2</text><text x="1209.3" y="73.5">ZHM-2</text><text x="1312.3" y="73.5">ZHM-2</text>
<text x="179.5" y="571.5">ZHM-2</text><text x="282.55" y="571.5">ZHM-2</text><text x="385.6" y="571.5">ZHM-2</text><text x="488.65" y="571.5">ZHM-2</text><text x="591.7" y="571.5">ZHM-2</text><text x="694.75" y="571.5">ZHM-2</text><text x="797.8" y="571.5">ZHM-2</text><text x="900.85" y="571.5">ZHM-2</text><text x="1003.9" y="571.5">ZHM-2</text><text x="1106.95" y="571.5">ZHM-2</text><text x="1210" y="571.5">ZHM-2</text><text x="1313.05" y="571.5">ZHM-2</text>
<text transform="translate(192 61) rotate(23)">2%</text><text transform="translate(270 62) rotate(-23)">2%</text><text transform="translate(398 61) rotate(23)">2%</text><text transform="translate(1095 62) rotate(-23)">2%</text><text transform="translate(1225 61) rotate(23)">2%</text><text transform="translate(1300 62) rotate(-23)">2%</text>
<text transform="translate(199.5 581) rotate(-28)">2%</text><text transform="translate(261.55 574) rotate(22)">2%</text><text transform="translate(405.6 581) rotate(-28)">2%</text><text transform="translate(467.65 574) rotate(22)">2%</text><text transform="translate(611.7 581) rotate(-28)">2%</text><text transform="translate(673.75 574) rotate(22)">2%</text><text transform="translate(817.8 581) rotate(-28)">2%</text><text transform="translate(879.85 574) rotate(22)">2%</text><text transform="translate(1023.9 581) rotate(-28)">2%</text><text transform="translate(1085.95 574) rotate(22)">2%</text><text transform="translate(1230 581) rotate(-28)">2%</text><text transform="translate(1292.05 574) rotate(22)">2%</text>
</g>
<path fill="none" stroke="#fff" stroke-width="0.9" marker-end="url(#ah)" d="M178.5 58.3L205 69.7"/>
<path fill="none" stroke="#fff" stroke-width="0.9" marker-end="url(#ah)" d="M286.5 58.3L258.5 69.7"/>
<path fill="none" stroke="#fff" stroke-width="0.9" marker-end="url(#ah)" d="M384.6 58.3L411 69.7"/>
<path fill="none" stroke="#fff" stroke-width="0.9" marker-end="url(#ah)" d="M1110 58.3L1083 69.7"/>
<path fill="none" stroke="#fff" stroke-width="0.9" marker-end="url(#ah)" d="M1212 58.3L1238 69.7"/>
<path fill="none" stroke="#fff" stroke-width="0.9" marker-end="url(#ah)" d="M1315 58.3L1288 69.7"/>
<path fill="none" stroke="#fff" stroke-width="0.9" marker-end="url(#ah)" d="M186.5 589L214.5 573"/>
<path fill="none" stroke="#fff" stroke-width="0.9" marker-end="url(#ah)" d="M276.55 582L247.55 570"/>
<path fill="none" stroke="#fff" stroke-width="0.9" marker-end="url(#ah)" d="M392.6 589L420.6 573"/>
<path fill="none" stroke="#fff" stroke-width="0.9" marker-end="url(#ah)" d="M482.65 582L453.65 570"/>
<path fill="none" stroke="#fff" stroke-width="0.9" marker-end="url(#ah)" d="M598.7 589L626.7 573"/>
<path fill="none" stroke="#fff" stroke-width="0.9" marker-end="url(#ah)" d="M688.75 582L659.75 570"/>
<path fill="none" stroke="#fff" stroke-width="0.9" marker-end="url(#ah)" d="M804.8 589L832.8 573"/>
<path fill="none" stroke="#fff" stroke-width="0.9" marker-end="url(#ah)" d="M894.85 582L865.85 570"/>
<path fill="none" stroke="#fff" stroke-width="0.9" marker-end="url(#ah)" d="M1010.9 589L1038.9 573"/>
<path fill="none" stroke="#fff" stroke-width="0.9" marker-end="url(#ah)" d="M1100.95 582L1071.95 570"/>
<path fill="none" stroke="#fff" stroke-width="0.9" marker-end="url(#ah)" d="M1217 589L1245 573"/>
<path fill="none" stroke="#fff" stroke-width="0.9" marker-end="url(#ah)" d="M1306.05 582L1278.05 570"/>
<g class="g">
<text x="217" y="64.5">200</text><text x="423" y="64.5">200</text><text x="1248.3" y="64.5">200</text>
<text x="217" y="580">200</text><text x="423.1" y="580">200</text><text x="629.2" y="580">200</text><text x="835.3" y="580">200</text><text x="1041.4" y="580">200</text><text x="1247.5" y="580">200</text>
</g>
<!-- balcony small green dim crosses at partitions -->
<path fill="none" stroke="#66d466" d="M226 58V100M222 62H240M237 58V100M432 58V100M428 62H446M1060 58V100M1056 62H1068M1257 58V100M1253 62H1272M1268 58V100M226 540V585M222 582H240M237 540V585M432 540V585M428 582H446M443 540V585M638 540V585M634 582H652M649 540V585M844 540V585M840 582H858M855 540V585M1050 540V585M1046 582H1064M1061 540V585M1256 540V585M1252 582H1270M1267 540V585"/>

<!-- KD1 pipes upper -->
<g fill="#ff00ff"><circle cx="224.05" cy="77.3" r="2.2"/><circle cx="238.75" cy="77.3" r="2.2"/><circle cx="430.15" cy="77.3" r="2.2"/><circle cx="444.85" cy="77.3" r="2.2"/><circle cx="1048.45" cy="77.3" r="2.2"/><circle cx="1063.15" cy="77.3" r="2.2"/><circle cx="1254.55" cy="77.3" r="2.2"/><circle cx="1269.25" cy="77.3" r="2.2"/>
<circle cx="224.05" cy="562.7" r="2.2"/><circle cx="238.75" cy="562.7" r="2.2"/><circle cx="430.15" cy="562.7" r="2.2"/><circle cx="444.85" cy="562.7" r="2.2"/><circle cx="636.25" cy="562.7" r="2.2"/><circle cx="650.95" cy="562.7" r="2.2"/><circle cx="842.35" cy="562.7" r="2.2"/><circle cx="857.05" cy="562.7" r="2.2"/><circle cx="1048.45" cy="562.7" r="2.2"/><circle cx="1063.15" cy="562.7" r="2.2"/><circle cx="1254.55" cy="562.7" r="2.2"/><circle cx="1269.25" cy="562.7" r="2.2"/></g>
<g fill="#fff"><rect x="222.3" y="80.5" width="3.5" height="7.5"/><rect x="237" y="80.5" width="3.5" height="7.5"/><rect x="428.4" y="80.5" width="3.5" height="7.5"/><rect x="443.1" y="80.5" width="3.5" height="7.5"/><rect x="1046.7" y="80.5" width="3.5" height="7.5"/><rect x="1061.4" y="80.5" width="3.5" height="7.5"/><rect x="1252.8" y="80.5" width="3.5" height="7.5"/><rect x="1267.5" y="80.5" width="3.5" height="7.5"/>
<rect x="222.3" y="551.3" width="3.5" height="7.5"/><rect x="237" y="551.3" width="3.5" height="7.5"/><rect x="428.4" y="551.3" width="3.5" height="7.5"/><rect x="443.1" y="551.3" width="3.5" height="7.5"/><rect x="634.5" y="551.3" width="3.5" height="7.5"/><rect x="649.2" y="551.3" width="3.5" height="7.5"/><rect x="840.6" y="551.3" width="3.5" height="7.5"/><rect x="855.3" y="551.3" width="3.5" height="7.5"/><rect x="1046.7" y="551.3" width="3.5" height="7.5"/><rect x="1061.4" y="551.3" width="3.5" height="7.5"/><rect x="1252.8" y="551.3" width="3.5" height="7.5"/><rect x="1267.5" y="551.3" width="3.5" height="7.5"/></g>
<path fill="none" stroke="#fff" stroke-width="0.9" d="M225 88L250 98.3M240 88L250 98.3H290M431 88L413.3 98.3M446 88L413.3 98.3H374M1049 88L1080 98.3M1064 88L1080 98.3H1120M1255 88L1243 98.3M1270 88L1243 98.3H1204M225 551L256.55 528.3M240 551L256.55 528.3H295.55M431 551L462.65 528.3M446 551L462.65 528.3H501.65M637 551L668.75 528.3M652 551L668.75 528.3H707.75M843 551L874.85 528.3M858 551L874.85 528.3H913.85M1049 551L1080.95 528.3M1064 551L1080.95 528.3H1119.95M1255 551L1287.05 528.3M1270 551L1287.05 528.3H1326.05"/>
<g class="w">
<text x="270" y="95.5">KD1</text><text x="393.7" y="95.5">KD1</text><text x="1100" y="95.5">KD1</text><text x="1223.5" y="95.5">KD1</text>
<text x="276" y="526">KD1</text><text x="482.2" y="526">KD1</text><text x="688.3" y="526">KD1</text><text x="894.4" y="526">KD1</text><text x="1100.5" y="526">KD1</text><text x="1306.6" y="526">KD1</text>
</g>
<g class="wc">
<text x="270" y="106.5">距地3000</text><text x="393.7" y="106.5">距地3000</text><text x="1100" y="106.5">距地3000</text><text x="1223.5" y="106.5">距地3000</text>
<text x="275.5" y="537">距地3000</text><text x="481.7" y="537">距地3000</text><text x="687.8" y="537">距地3000</text><text x="893.9" y="537">距地3000</text><text x="1100" y="537">距地3000</text><text x="1306.1" y="537">距地3000</text>
</g>

<!-- bottom dimensions -->
<path fill="none" stroke="#66d466" d="M125 640.3H1368M125 668.3H1368M125 684.3H1368M125 700H1368M128.5 633V716.5M334.6 633V716.5M540.7 633V716.5M746.8 633V716.5M952.9 633V716.5M1159 633V716.5M1365.1 633V716.5M231.55 633V688M437.65 633V688M643.75 633V688M849.85 633V688M1055.95 633V688M1262.05 633V688"/>
<path fill="none" stroke="#66d466" d="M181 630V645M213 630V645M258 630V645M290 630V645M370 630V645M402 630V645M481 630V645M513 630V645M568 630V645M600 630V645M679 630V645M711 630V645M792 630V645M823 630V645M877 630V645M909 630V645M989 630V645M1021 630V645M1100 630V645M1132 630V645M1186 630V645M1218 630V645M1289 630V645M1321 630V645M165.5 657V672M227.5 657V672M235.6 657V672M314.8 657V672M354.4 657V672M417.8 657V672M457.4 657V672M536.7 657V672M544.7 657V672M624 657V672M663.5 657V672M742.8 657V672M750.8 657V672M830 657V672M869.6 657V672M933 657V672M972.7 657V672M1036 657V672M1075.7 657V672M1155 657V672M1163 657V672M1242.3 657V672M1282.7 657V672M1328.3 657V672"/>
<g class="g">
<text x="154.75" y="637">2080</text><text x="197" y="637">1200</text><text x="222.3" y="637">700</text><text x="244.8" y="637">1025</text><text x="274" y="637">1200</text><text x="312.3" y="637">1675</text><text x="352.3" y="637">1350</text><text x="386" y="637">1200</text><text x="419.8" y="637">1350</text><text x="459.3" y="637">1650</text><text x="497" y="637">1200</text><text x="526.9" y="637">1050</text><text x="554.4" y="637">1025</text><text x="584" y="637">1200</text><text x="621.9" y="637">1675</text><text x="661.4" y="637">1350</text><text x="695" y="637">1200</text><text x="728.9" y="637">1350</text><text x="769.4" y="637">1675</text><text x="807.5" y="637">1200</text><text x="836.4" y="637">1025</text><text x="863.4" y="637">1025</text><text x="893" y="637">1200</text><text x="931" y="637">1675</text><text x="971" y="637">1350</text><text x="1005" y="637">1200</text><text x="1038.5" y="637">1350</text><text x="1078" y="637">1675</text><text x="1116" y="637">1200</text><text x="1145.5" y="637">1025</text><text x="1172.5" y="637">1025</text><text x="1202" y="637">1200</text><text x="1240" y="637">1675</text><text x="1275.5" y="637">1025</text><text x="1305" y="637">1200</text><text x="1343" y="637">1675</text>
<text x="147" y="665">1400</text><text x="196.5" y="665">2350</text><text x="275" y="665">3000</text><text x="324.7" y="665">750</text><text x="344.5" y="665">750</text><text x="386.1" y="665">2400</text><text x="427.7" y="665">750</text><text x="447.4" y="665">750</text><text x="497" y="665">3000</text><text x="584.4" y="665">3000</text><text x="634" y="665">750</text><text x="653.6" y="665">750</text><text x="703" y="665">3000</text><text x="790" y="665">3000</text><text x="840" y="665">750</text><text x="859.7" y="665">750</text><text x="901.3" y="665">2400</text><text x="943" y="665">750</text><text x="962.8" y="665">750</text><text x="1004" y="665">2400</text><text x="1046" y="665">750</text><text x="1066" y="665">750</text><text x="1116" y="665">3000</text><text x="1202.7" y="665">3000</text><text x="1252.2" y="665">750</text><text x="1272.4" y="665">750</text><text x="1305.5" y="665">1750</text><text x="1346.7" y="665">1400</text>
<text x="180" y="681">3900</text><text x="283.1" y="681">3900</text><text x="386.1" y="681">3900</text><text x="489.2" y="681">3900</text><text x="592.2" y="681">3900</text><text x="695.3" y="681">3900</text><text x="798.3" y="681">3900</text><text x="901.4" y="681">3900</text><text x="1004.4" y="681">3900</text><text x="1107.5" y="681">3900</text><text x="1210.5" y="681">3900</text><text x="1313.6" y="681">3900</text>
<text x="746.8" y="697">46800</text>
</g>
<g class="gs">
<text x="231.5" y="655">150</text><text x="231.5" y="664">150</text><text x="540.7" y="655">150</text><text x="540.7" y="664">150</text><text x="746.8" y="655">150</text><text x="746.8" y="664">150</text><text x="952.9" y="655">150</text><text x="952.9" y="664">150</text><text x="1159" y="655">150</text><text x="1159" y="664">150</text>
</g>

<!-- title -->
<text x="673" y="766.5" style="fill:#fff;font-size:9.5px;font-family:'Liberation Sans','Noto Sans CJK SC',sans-serif">三~六层平面图</text>
<text x="769" y="766" style="fill:#fff;font-size:8px">1:100</text>
<path fill="none" stroke="#00e5ff" stroke-width="1.2" d="M1250 753.3H1518M1250 753.3V767"/>
<rect x="1280" y="765.5" width="13" height="1.5" fill="#fff"/>
<text x="1346" y="775" textLength="129" style="fill:#00e5ff;font-size:11.5px;font-family:'Liberation Sans','Noto Sans CJK SC',sans-serif">华南国际设计集团有限公司</text>
</svg>
</body></html>
